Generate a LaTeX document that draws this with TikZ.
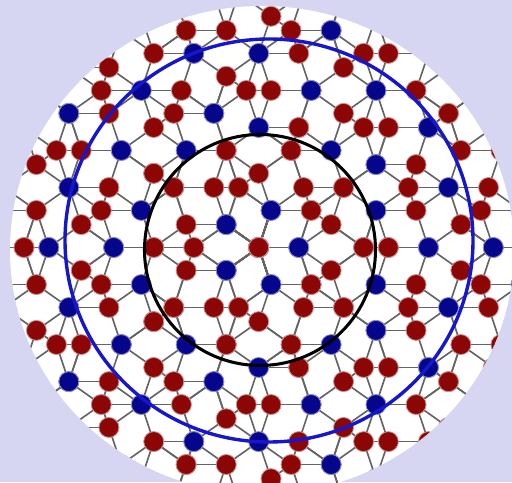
\documentclass[tikz,border=0pt]{standalone}

\definecolor{paneviolet}{RGB}{214,214,242}
\definecolor{atomred}{RGB}{140,6,6}
\definecolor{atomblue}{RGB}{6,6,140}
\definecolor{bondgray}{RGB}{100,100,100}
\definecolor{ringblue}{RGB}{22,22,205}

% sites of the 0--36 degree wedge, as coefficients on the five 72-degree vectors
\newcommand\wedgesites{%
  0/0/0/0/0/atomred, 1/0/0/0/0/atomblue, 1/0/0/-1/0/atomred, 1/1/0/0/0/atomred,
  1/0/-1/-1/0/atomred, 0/0/-2/-2/0/atomred, 1/1/-1/-1/0/atomblue, 1/1/0/-1/0/atomred,
  1/1/0/-2/0/atomblue, 2/1/-1/-1/0/atomred, 1/1/-1/-2/0/atomred, 1/0/-2/-2/0/atomblue,
  2/1/-1/-2/0/atomblue, 2/1/-1/-2/1/atomred, 2/1/-2/-2/0/atomred, 1/0/-3/-3/0/atomblue,
  3/1/-1/-2/0/atomred, 2/1/0/-2/0/atomred, 2/2/0/-2/0/atomblue, 2/2/-1/-2/0/atomred,
  3/2/-1/-2/0/atomred, 2/2/-1/-2/-1/atomred, 2/2/-1/-3/0/atomred, 3/1/-2/-2/0/atomblue,
  3/1/-2/-2/1/atomred, 2/2/-1/-3/-1/atomred}

\newcommand\sitekey[5]{p\the\numexpr(#2)-(#1)+20\relax x\the\numexpr(#3)-(#1)+20\relax
  x\the\numexpr(#4)-(#1)+20\relax x\the\numexpr(#5)-(#1)+20\relax}
\newcommand\pickn[1]{\ifcase#1 \na\or\nb\or\nc\or\nd\or\nf\fi}

% image of a wedge site under rotation \rot and mirror \mir
\newcommand\placesite{%
  \pgfmathtruncatemacro\ka{mod(\mir*(0-\rot)+10,5)}%
  \pgfmathtruncatemacro\kb{mod(\mir*(1-\rot)+10,5)}%
  \pgfmathtruncatemacro\kc{mod(\mir*(2-\rot)+10,5)}%
  \pgfmathtruncatemacro\kd{mod(\mir*(3-\rot)+10,5)}%
  \pgfmathtruncatemacro\kf{mod(\mir*(4-\rot)+10,5)}%
  \edef\qa{\pickn\ka}\edef\qb{\pickn\kb}\edef\qc{\pickn\kc}%
  \edef\qd{\pickn\kd}\edef\qf{\pickn\kf}%
  \edef\skey{\sitekey\qa\qb\qc\qd\qf}%
  \pgfmathsetmacro\px{258.65+40.08*((\qa)+0.309017*((\qb)+(\qf))-0.809017*((\qc)+(\qd)))}%
  \pgfmathsetmacro\py{234.5+38.98*(0.951057*((\qb)-(\qf))+0.587785*((\qc)-(\qd)))}%
}

\newcommand\trybond[5]{%
  \edef\nkey{\sitekey{#1}{#2}{#3}{#4}{#5}}%
  \ifcsname pgf@sh@ns@\nkey\endcsname\draw[bond] (\skey) -- (\nkey);\fi}
\newcommand\bondsite{%
  % rhombus edges
  \trybond{\qa+1}{\qb}{\qc}{\qd}{\qf}\trybond{\qa}{\qb+1}{\qc}{\qd}{\qf}%
  \trybond{\qa}{\qb}{\qc+1}{\qd}{\qf}\trybond{\qa}{\qb}{\qc}{\qd+1}{\qf}%
  \trybond{\qa}{\qb}{\qc}{\qd}{\qf+1}%
  % short diagonals of the thin rhombi
  \trybond{\qa+1}{\qb}{\qc+1}{\qd}{\qf}\trybond{\qa}{\qb+1}{\qc}{\qd+1}{\qf}%
  \trybond{\qa}{\qb}{\qc+1}{\qd}{\qf+1}\trybond{\qa+1}{\qb}{\qc}{\qd+1}{\qf}%
  \trybond{\qa}{\qb+1}{\qc}{\qd}{\qf+1}%
}

\begin{document}
\begin{tikzpicture}[x=0.03cm, y=0.03cm,
  site/.style={circle, inner sep=0pt, minimum size=0.6cm, line width=0.7pt},
  bond/.style={draw=bondgray, line width=1.4pt}]
\useasboundingbox (0,0) rectangle (512,482);
\fill[paneviolet] (0,0) rectangle (512,482);
\fill[white] (262,232) ellipse [x radius=252, y radius=244];

\begin{scope}
  \clip (262,232) ellipse [x radius=252, y radius=244];
  % lattice points
  \foreach \na/\nb/\nc/\nd/\nf/\col in \wedgesites
    \foreach \rot in {0,...,4}
      \foreach \mir in {1,-1}
        {\placesite \coordinate (\skey) at (\px,\py);}
  % bonds
  \foreach \na/\nb/\nc/\nd/\nf/\col in \wedgesites
    \foreach \rot in {0,...,4}
      \foreach \mir in {1,-1}
        {\placesite \bondsite}
  % atoms
  \foreach \na/\nb/\nc/\nd/\nf/\col in \wedgesites
    \foreach \rot in {0,...,4}
      \foreach \mir in {1,-1}
        {\placesite \node[site, fill=\col, draw=\col!45!white] (a\skey) at (\skey) {};}
\end{scope}

\draw[line width=2.6pt] (260,232) circle [radius=115.5];
\draw[ringblue, line width=2.9pt] (269,241.5) ellipse [x radius=204, y radius=201.5];
\end{tikzpicture}
\end{document}
